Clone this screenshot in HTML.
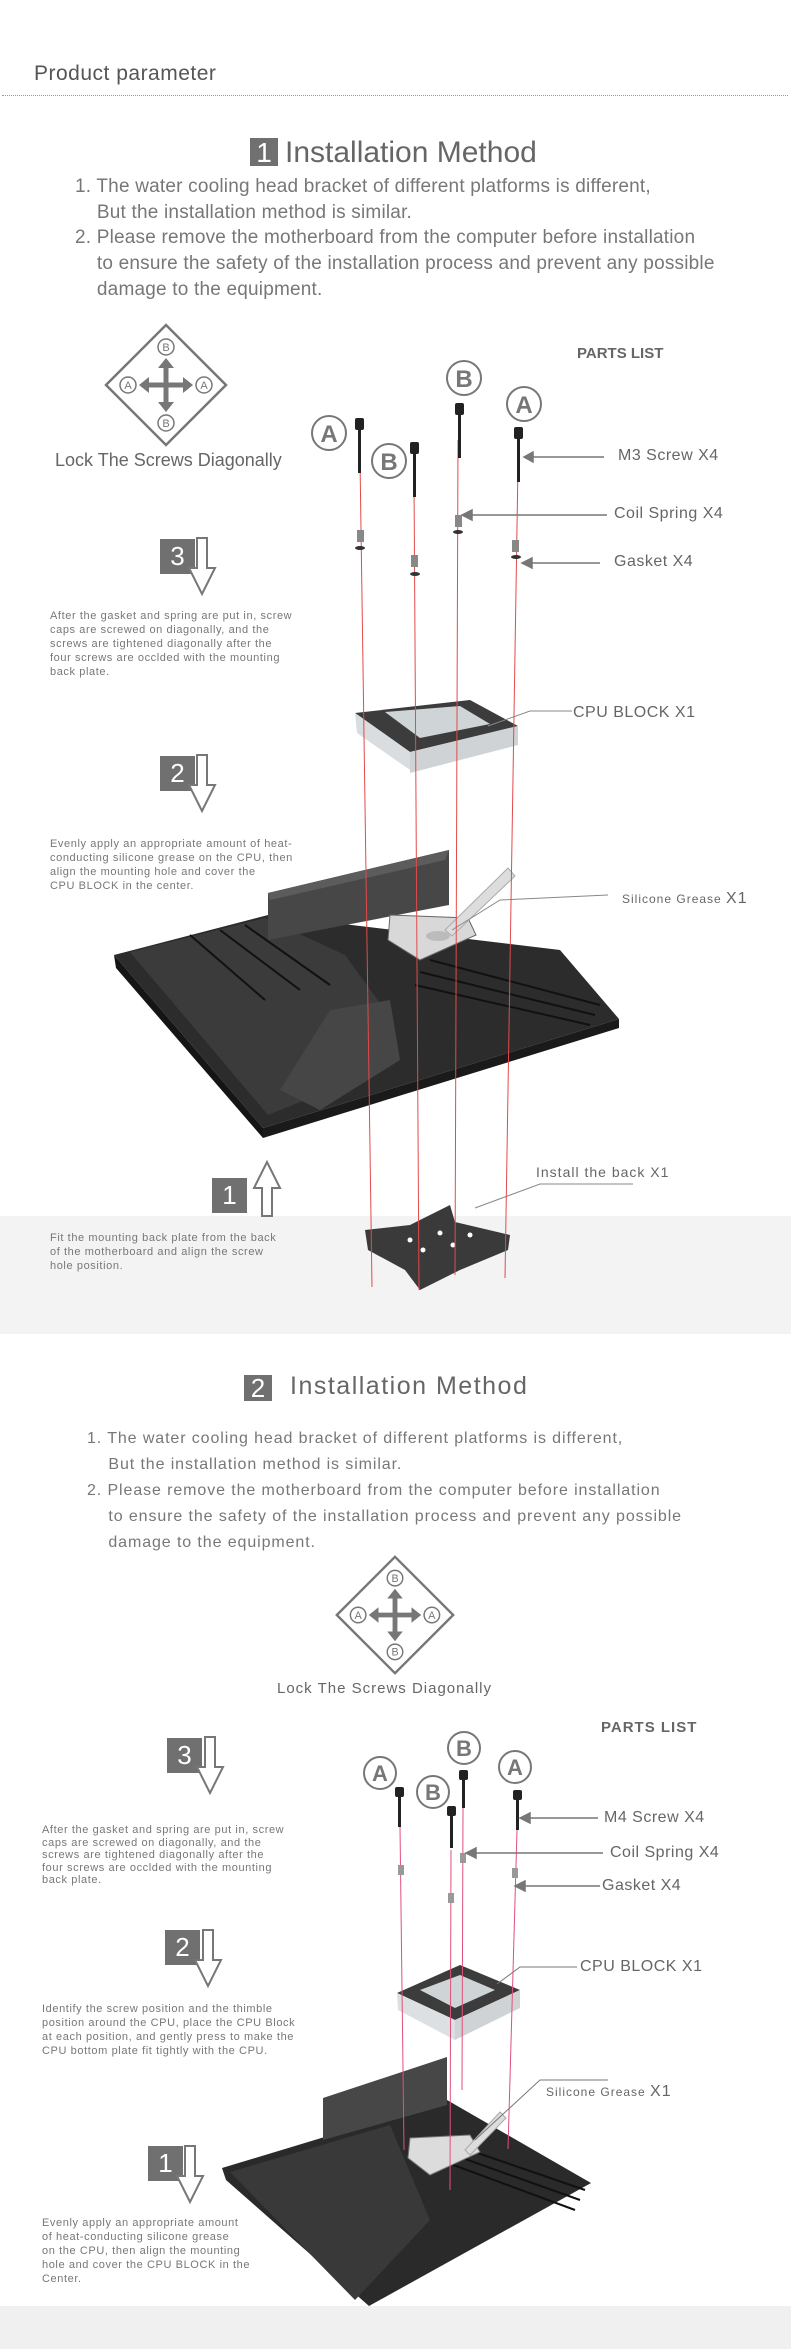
<!DOCTYPE html>
<html><head><meta charset="utf-8"><style>
body{margin:0;background:#fff}
#p{position:relative;width:791px;height:2349px;overflow:hidden;font-family:"Liberation Sans",sans-serif;color:#666}
.a{position:absolute;white-space:nowrap}
.n{font-family:"Liberation Sans Narrow","Liberation Sans",sans-serif}
.box{position:absolute;background:#707070;color:#fff;text-align:center}
.sm{font-size:11px;line-height:14px;letter-spacing:0.6px;color:#777}
.lb{font-size:16px;color:#666;letter-spacing:0.5px}
</style></head><body><div id="p">
<div style="position:absolute;left:0;top:1216px;width:791px;height:118px;background:#f3f3f3"></div>
<div style="position:absolute;left:0;top:2306px;width:791px;height:43px;background:#f0f0f0"></div>
<div class="a" style="left:34px;top:62px;font-size:21px;color:#555;letter-spacing:0.5px">Product parameter</div>
<div style="position:absolute;left:2px;top:95px;width:786px;border-top:1px dotted #999"></div>

<div class="box" style="left:250px;top:138px;width:28px;height:28px;font-size:28px;line-height:30px">1</div>
<div class="a n" style="left:285px;top:136px;font-size:30px;color:#666">Installation Method</div>
<div class="a n" style="left:75px;top:174px;font-size:19px;line-height:25.7px;color:#777;letter-spacing:0.2px">1. The water cooling head bracket of different platforms is different,<br>&nbsp;&nbsp;&nbsp;&nbsp;But the installation method is similar.<br>2. Please remove the motherboard from the computer before installation<br>&nbsp;&nbsp;&nbsp;&nbsp;to ensure the safety of the installation process and prevent any possible<br>&nbsp;&nbsp;&nbsp;&nbsp;damage to the equipment.</div>

<div class="a n" style="left:55px;top:450px;font-size:18px;color:#666">Lock The Screws Diagonally</div>
<div class="a" style="left:577px;top:345px;font-size:15px;font-weight:bold;color:#666">PARTS LIST</div>
<div class="a lb" style="left:618px;top:447px">M3 Screw X4</div>
<div class="a lb" style="left:614px;top:505px">Coil Spring X4</div>
<div class="a lb" style="left:614px;top:553px">Gasket X4</div>
<div class="a lb" style="left:573px;top:704px">CPU BLOCK X1</div>
<div class="a" style="left:622px;top:890px;font-size:12px;letter-spacing:1px;color:#666">Silicone Grease <span style="font-size:16px">X1</span></div>
<div class="a" style="left:536px;top:1164px;font-size:14px;letter-spacing:1px;color:#666">Install the back X1</div>

<div class="box" style="left:160px;top:539px;width:35px;height:35px;font-size:26px;line-height:35px">3</div>
<div class="a sm" style="left:50px;top:609px">After the gasket and spring are put in, screw<br>caps are screwed on diagonally, and the<br>screws are tightened diagonally after the<br>four screws are occlded with the mounting<br>back plate.</div>
<div class="box" style="left:160px;top:756px;width:35px;height:35px;font-size:26px;line-height:35px">2</div>
<div class="a sm" style="left:50px;top:837px">Evenly apply an appropriate amount of heat-<br>conducting silicone grease on the CPU, then<br>align the mounting hole and cover the<br>CPU BLOCK in the center.</div>
<div class="box" style="left:212px;top:1178px;width:35px;height:35px;font-size:26px;line-height:35px">1</div>
<div class="a sm" style="left:50px;top:1231px">Fit the mounting back plate from the back<br>of the motherboard and align the screw<br>hole position.</div>

<div class="box" style="left:244px;top:1375px;width:28px;height:26px;font-size:26px;line-height:27px">2</div>
<div class="a" style="left:290px;top:1372px;font-size:25px;letter-spacing:1.5px;color:#666">Installation Method</div>
<div class="a" style="left:87px;top:1426px;font-size:16px;line-height:26px;letter-spacing:0.9px;color:#777">1. The water cooling head bracket of different platforms is different,<br>&nbsp;&nbsp;&nbsp;&nbsp;But the installation method is similar.<br>2. Please remove the motherboard from the computer before installation<br>&nbsp;&nbsp;&nbsp;&nbsp;to ensure the safety of the installation process and prevent any possible<br>&nbsp;&nbsp;&nbsp;&nbsp;damage to the equipment.</div>
<div class="a" style="left:277px;top:1680px;font-size:15px;letter-spacing:1px;color:#666">Lock The Screws Diagonally</div>
<div class="a" style="left:601px;top:1719px;font-size:15px;font-weight:bold;letter-spacing:1px;color:#666">PARTS LIST</div>
<div class="a lb" style="left:604px;top:1809px">M4 Screw X4</div>
<div class="a lb" style="left:610px;top:1844px">Coil Spring X4</div>
<div class="a lb" style="left:602px;top:1877px">Gasket X4</div>
<div class="a lb" style="left:580px;top:1958px">CPU BLOCK X1</div>
<div class="a" style="left:546px;top:2083px;font-size:12px;letter-spacing:1px;color:#666">Silicone Grease <span style="font-size:16px">X1</span></div>

<div class="box" style="left:167px;top:1738px;width:35px;height:35px;font-size:26px;line-height:35px">3</div>
<div class="a sm" style="left:42px;top:1824px;line-height:12.6px">After the gasket and spring are put in, screw<br>caps are screwed on diagonally, and the<br>screws are tightened diagonally after the<br>four screws are occlded with the mounting<br>back plate.</div>
<div class="box" style="left:165px;top:1930px;width:35px;height:35px;font-size:26px;line-height:35px">2</div>
<div class="a sm" style="left:42px;top:2002px">Identify the screw position and the thimble<br>position around the CPU, place the CPU Block<br>at each position, and gently press to make the<br>CPU bottom plate fit tightly with the CPU.</div>
<div class="box" style="left:148px;top:2146px;width:35px;height:35px;font-size:26px;line-height:35px">1</div>

<svg width="791" height="2349" style="position:absolute;left:0;top:0" xmlns="http://www.w3.org/2000/svg">
<defs>
<g id="dia">
<polygon points="0,-60 60,0 0,60 -60,0" fill="none" stroke="#777" stroke-width="2.5"/>
<g fill="none" stroke="#777" stroke-width="1.5"><circle cx="0" cy="-38" r="8"/><circle cx="0" cy="38" r="8"/><circle cx="-38" cy="0" r="8"/><circle cx="38" cy="0" r="8"/></g>
<g font-family="Liberation Sans" font-size="11" fill="#777" text-anchor="middle"><text x="0" y="-34">B</text><text x="0" y="42">B</text><text x="-38" y="4">A</text><text x="38" y="4">A</text></g>
<g stroke="#777" stroke-width="5"><line x1="-18" y1="0" x2="18" y2="0"/><line x1="0" y1="-18" x2="0" y2="18"/></g>
<g fill="#777"><polygon points="-27,0 -17,-8 -17,8"/><polygon points="27,0 17,-8 17,8"/><polygon points="0,-27 -8,-17 8,-17"/><polygon points="0,27 -8,17 8,17"/></g>
</g>
<g id="dn"><path d="M0,0 h10 v30 h8 l-13,26 l-13,-26 h8 z" fill="#fff" stroke="#777" stroke-width="2"/></g>
</defs>
<use href="#dia" x="166" y="385"/>
<use href="#dia" transform="translate(395,1615) scale(0.97)"/>
<use href="#dn" x="197" y="538"/>
<use href="#dn" x="197" y="755"/>
<use href="#dn" x="205" y="1737"/>
<use href="#dn" x="203" y="1930"/>
<use href="#dn" x="185" y="2146"/>
<path d="M262,1216 v-28 h-8 l13,-26 l13,26 h-8 v28 z" fill="#fff" stroke="#777" stroke-width="2"/>

<!-- section1 motherboard -->
<polygon points="114,955 268,915 560,950 619,1019 263,1128" fill="#2c2c2c"/>
<polygon points="114,955 263,1128 263,1138 116,968" fill="#151515"/>
<polygon points="263,1128 619,1019 619,1028 263,1138" fill="#1a1a1a"/>
<polygon points="130,952 265,918 345,955 385,1010 330,1090 268,1115" fill="#3b3b3b"/>
<polygon points="280,1090 330,1010 390,1000 400,1060 320,1110" fill="#464646"/>
<polygon points="268,893 449,850 449,905 268,940" fill="#474747"/>
<polygon points="268,893 449,850 445,860 270,900" fill="#5c5c5c"/>
<g stroke="#111" stroke-width="2"><line x1="430" y1="960" x2="600" y2="1005"/><line x1="420" y1="972" x2="595" y2="1015"/><line x1="415" y1="985" x2="590" y2="1025"/><line x1="190" y1="935" x2="265" y2="1000"/><line x1="220" y1="930" x2="300" y2="990"/><line x1="245" y1="925" x2="330" y2="985"/></g>
<polygon points="390,915 468,918 476,935 420,960 388,940" fill="#d8d8d8" stroke="#666"/>
<ellipse cx="438" cy="936" rx="12" ry="5" fill="#bbb"/>
<polygon points="445,930 508,868 515,876 452,936" fill="#ddd" stroke="#aaa"/>
<polyline points="608,895 500,900 452,930" fill="none" stroke="#888"/>
<!-- CPU block 1 -->
<polygon points="355,713 470,700 518,726 410,752" fill="#3c3c3c"/>
<polygon points="385,712 460,706 490,724 420,738" fill="#cfd4d6"/>
<polygon points="355,713 410,752 410,770 357,733" fill="#d9dde0"/>
<polygon points="410,752 518,726 518,745 410,773" fill="#cfd3d6"/>
<polyline points="572,711 530,711 488,726" fill="none" stroke="#888"/>
<!-- backplate -->
<polygon points="365,1230 410,1225 450,1205 455,1222 510,1235 508,1250 460,1270 420,1290 405,1270 368,1250" fill="#3a3a3a"/>
<g fill="#fff"><circle cx="410" cy="1240" r="2.5"/><circle cx="440" cy="1233" r="2.5"/><circle cx="423" cy="1250" r="2.5"/><circle cx="453" cy="1245" r="2.5"/><circle cx="470" cy="1235" r="2.5"/></g>
<polyline points="633,1184 540,1184 475,1208" fill="none" stroke="#888"/>
<!-- red lines 1 -->
<g stroke="#e24a4a" stroke-width="1"><line x1="360" y1="460" x2="372" y2="1287"/><line x1="414" y1="480" x2="419" y2="1290"/><line x1="458" y1="440" x2="455" y2="1275"/><line x1="518" y1="465" x2="505" y2="1278"/></g>
<!-- screws 1 -->
<g fill="#222"><rect x="355" y="418" width="9" height="12" rx="2"/><rect x="358" y="428" width="3" height="45"/><rect x="410" y="442" width="9" height="12" rx="2"/><rect x="413" y="452" width="3" height="45"/><rect x="455" y="403" width="9" height="12" rx="2"/><rect x="458" y="413" width="3" height="45"/><rect x="514" y="427" width="9" height="12" rx="2"/><rect x="517" y="437" width="3" height="45"/></g>
<g fill="#888"><rect x="357" y="530" width="7" height="12"/><rect x="411" y="555" width="7" height="12"/><rect x="455" y="515" width="7" height="12"/><rect x="512" y="540" width="7" height="12"/></g>
<g fill="#333"><ellipse cx="360" cy="548" rx="5" ry="2"/><ellipse cx="415" cy="574" rx="5" ry="2"/><ellipse cx="458" cy="532" rx="5" ry="2"/><ellipse cx="516" cy="557" rx="5" ry="2"/></g>
<g fill="none" stroke="#777" stroke-width="2"><circle cx="329" cy="433" r="17"/><circle cx="389" cy="461" r="17"/><circle cx="464" cy="378" r="17"/><circle cx="524" cy="404" r="17"/></g>
<g font-family="Liberation Sans" font-weight="bold" font-size="24" fill="#777" text-anchor="middle"><text x="329" y="442">A</text><text x="389" y="470">B</text><text x="464" y="387">B</text><text x="524" y="413">A</text></g>
<g stroke="#777" stroke-width="1.5" fill="#777"><line x1="531" y1="457" x2="604" y2="457"/><polygon points="524,457 533,452 533,462"/><line x1="470" y1="515" x2="607" y2="515"/><polygon points="462,515 472,510 472,520"/><line x1="530" y1="563" x2="600" y2="563"/><polygon points="522,563 532,558 532,568"/></g>

<!-- section2 motherboard -->
<polygon points="222,2168 447,2100 591,2183 369,2306 226,2180" fill="#2a2a2a"/>
<polygon points="230,2172 390,2125 430,2220 355,2300" fill="#393939"/>
<polygon points="323,2098 447,2057 447,2105 323,2140" fill="#474747"/>
<g stroke="#111" stroke-width="2"><line x1="440" y1="2140" x2="585" y2="2190"/><line x1="440" y1="2150" x2="580" y2="2200"/><line x1="440" y1="2160" x2="575" y2="2210"/></g>
<polygon points="410,2138 470,2135 480,2152 430,2175 408,2158" fill="#dcdcdc" stroke="#777"/>
<polygon points="465,2150 500,2112 506,2118 470,2155" fill="#ddd" stroke="#aaa"/>
<polyline points="608,2080 540,2080 475,2140" fill="none" stroke="#777"/>
<!-- cpu block 2 -->
<polygon points="397,1993 460,1965 520,1990 455,2020" fill="#3c3c3c"/>
<polygon points="420,1990 460,1975 495,1990 455,2008" fill="#cfd4d6"/>
<polygon points="397,1993 455,2020 455,2040 398,2010" fill="#dde0e2"/>
<polygon points="455,2020 520,1990 520,2008 455,2040" fill="#d0d3d6"/>
<polyline points="577,1967 520,1967 497,1984" fill="none" stroke="#777"/>
<!-- red lines 2 -->
<g stroke="#e0507a" stroke-width="1"><line x1="400" y1="1827" x2="404" y2="2150"/><line x1="451" y1="1850" x2="450" y2="2190"/><line x1="463" y1="1808" x2="462" y2="2090"/><line x1="517" y1="1830" x2="508" y2="2149"/></g>
<g fill="#222"><rect x="395" y="1787" width="9" height="10" rx="2"/><rect x="398" y="1795" width="3" height="32"/><rect x="447" y="1806" width="9" height="10" rx="2"/><rect x="450" y="1814" width="3" height="34"/><rect x="459" y="1770" width="9" height="10" rx="2"/><rect x="462" y="1778" width="3" height="30"/><rect x="513" y="1790" width="9" height="10" rx="2"/><rect x="516" y="1798" width="3" height="32"/></g>
<g fill="#999"><rect x="398" y="1865" width="6" height="10"/><rect x="448" y="1893" width="6" height="10"/><rect x="460" y="1853" width="6" height="10"/><rect x="512" y="1868" width="6" height="10"/></g>
<g fill="none" stroke="#777" stroke-width="2"><circle cx="380" cy="1773" r="16"/><circle cx="433" cy="1792" r="16"/><circle cx="464" cy="1748" r="16"/><circle cx="515" cy="1767" r="16"/></g>
<g font-family="Liberation Sans" font-weight="bold" font-size="22" fill="#777" text-anchor="middle"><text x="380" y="1781">A</text><text x="433" y="1800">B</text><text x="464" y="1756">B</text><text x="515" y="1775">A</text></g>
<g stroke="#777" stroke-width="1.5" fill="#777"><line x1="527" y1="1818" x2="598" y2="1818"/><polygon points="520,1818 530,1813 530,1823"/><line x1="473" y1="1853" x2="603" y2="1853"/><polygon points="466,1853 476,1848 476,1858"/><line x1="522" y1="1886" x2="600" y2="1886"/><polygon points="515,1886 525,1881 525,1891"/></g>
</svg>
<div class="a sm" style="left:42px;top:2216px">Evenly apply an appropriate amount<br>of heat-conducting silicone grease<br>on the CPU, then align the mounting<br>hole and cover the CPU BLOCK in the<br>Center.</div>
</div></body></html>
